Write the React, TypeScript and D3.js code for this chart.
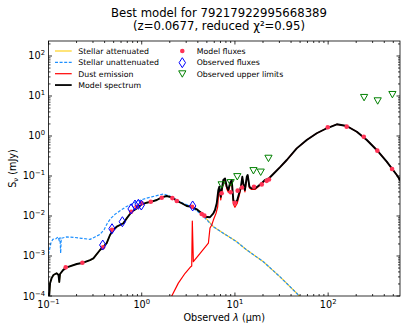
import React from 'react';
import * as d3 from 'd3';

// wavelength (um), flux density (mJy)
const modelSpectrum: [number, number][] = [
  [0.1, 1.0e-4], [0.102, 1.06e-4], [0.104, 2.1e-4], [0.108, 2.8e-4], [0.113, 3.35e-4], [0.122, 3.7e-4],
  [0.128, 3.35e-4], [0.1305, 2.24e-4], [0.133, 3.55e-4], [0.144, 4.5e-4], [0.157, 5.2e-4], [0.201, 6.3e-4],
  [0.236, 6.8e-4], [0.279, 7.9e-4], [0.303, 8.7e-4], [0.357, 1.41e-3], [0.387, 1.7e-3], [0.421, 2.09e-3],
  [0.457, 3.35e-3], [0.495, 4.47e-3], [0.539, 5.4e-3], [0.585, 5.96e-3], [0.635, 6.6e-3], [0.69, 8.7e-3],
  [0.78, 0.0128], [0.884, 0.0155], [1.0, 0.0196], [1.13, 0.0215], [1.28, 0.0228], [1.45, 0.0251],
  [1.64, 0.0293], [1.85, 0.0316], [2.1, 0.0293], [2.38, 0.024], [2.69, 0.0208], [3.04, 0.0178],
  [3.44, 0.017], [3.89, 0.0147], [4.4, 0.0117], [4.78, 0.0096], [5.4, 0.0093], [5.87, 0.0117],
  [6.11, 0.0141], [6.38, 0.0208], [6.64, 0.0447], [6.8, 0.054], [7.05, 0.0302], [7.21, 0.0447],
  [7.51, 0.0794], [7.83, 0.0871], [8.17, 0.054], [8.49, 0.0447], [8.85, 0.066], [9.24, 0.0794],
  [9.61, 0.0251], [10.0, 0.0208], [10.6, 0.0251], [11.1, 0.0372], [11.6, 0.054], [12.0, 0.0955],
  [12.3, 0.066], [12.8, 0.0447], [13.4, 0.0955], [13.7, 0.106], [14.3, 0.054], [15.1, 0.049],
  [16.4, 0.049], [17.8, 0.0562], [19.4, 0.066], [21.0, 0.0794], [22.8, 0.0841], [25.8, 0.112],
  [30.5, 0.166], [36.0, 0.251], [46.0, 0.49], [58.9, 0.794], [75.5, 1.17], [96.6, 1.56], [124, 1.96],
  [158, 1.78], [203, 1.28], [260, 0.794], [332, 0.447], [425, 0.228], [545, 0.106], [600, 0.075],
];

const stellarUnattenuated: [number, number][] = [
  [0.1, 1.1e-3], [0.103, 1.5e-3], [0.106, 2.09e-3], [0.111, 2.6e-3], [0.12, 2.7e-3], [0.127, 3.0e-3],
  [0.1305, 2.4e-3], [0.133, 2.87e-3], [0.135, 1.17e-3], [0.137, 2.77e-3], [0.157, 3.0e-3], [0.185, 2.93e-3],
  [0.227, 2.77e-3], [0.279, 2.6e-3], [0.315, 3.0e-3], [0.357, 3.47e-3], [0.397, 4.66e-3], [0.428, 6.6e-3],
  [0.465, 8.7e-3], [0.517, 0.011], [0.585, 0.0135], [0.679, 0.017], [0.782, 0.02], [0.884, 0.023],
  [1.0, 0.0255], [1.13, 0.028], [1.28, 0.03], [1.45, 0.0323], [1.71, 0.0355], [1.85, 0.0335],
  [2.1, 0.0302], [2.38, 0.0251], [2.79, 0.0208], [3.3, 0.0178], [3.89, 0.0135], [4.4, 0.0108],
  [5.87, 5.4e-3], [7.51, 3.7e-3], [10.4, 2.29e-3], [13.4, 1.41e-3], [20.2, 7.2e-4], [30.5, 3.0e-4],
  [46, 1.17e-4], [60, 6.0e-5],
];

const dustEmission: [number, number][] = [
  [2.0, 8e-5], [2.1, 1.0e-4], [2.47, 2.1e-4], [2.92, 3.7e-4], [3.36, 5.4e-4], [3.44, 5.6e-4],
  [3.49, 7.5e-3], [3.58, 7.2e-4], [4.23, 1.17e-3], [5.19, 2.09e-3], [5.4, 5.0e-3], [5.64, 5.96e-3],
  [5.87, 7.9e-3], [6.27, 0.0117], [6.53, 0.017], [6.69, 0.0372], [6.83, 0.0447], [7.05, 0.0251],
  [7.21, 0.0372], [7.51, 0.072], [7.83, 0.08], [8.17, 0.048], [8.49, 0.039], [8.85, 0.058],
  [9.24, 0.072], [9.61, 0.02], [10.0, 0.0165], [10.6, 0.021], [11.1, 0.032], [11.6, 0.049],
  [12.0, 0.09], [12.3, 0.06], [12.8, 0.04], [13.4, 0.09], [13.7, 0.1], [14.3, 0.05], [15.1, 0.046],
  [16.4, 0.046], [17.8, 0.054], [19.4, 0.064], [21.0, 0.078], [22.8, 0.083],
];

const modelFluxes: [number, number][] = [
  [0.153, 5.2e-4], [0.231, 6.8e-4], [0.385, 1.65e-3], [0.48, 4.5e-3], [0.77, 0.0128], [0.88, 0.017],
  [1.0, 0.0208], [1.25, 0.0228], [1.64, 0.0287], [2.13, 0.028], [2.38, 0.0237], [3.47, 0.017],
  [4.4, 0.0112], [4.7, 0.0102], [7.2, 0.0371], [9.0, 0.0392], [10.0, 0.0215], [10.7, 0.043],
  [11.9, 0.0514], [16, 0.054], [19.4, 0.0617], [21.9, 0.0756], [23.2, 0.082], [99, 1.65], [158, 1.71],
  [241, 0.96], [337, 0.43], [485, 0.15],
];

const observedFluxes: [number, number][] = [
  [0.382, 1.88e-3], [0.48, 4.8e-3], [0.62, 7.2e-3], [0.77, 0.015], [0.847, 0.0188], [0.92, 0.0196],
  [0.99, 0.0188], [3.52, 0.0178],
];

const upperLimits: [number, number][] = [
  [7.2, 0.0596], [9.0, 0.0676], [10.6, 0.0955], [15.8, 0.135], [18.9, 0.124], [22.9, 0.275],
  [243, 9.1], [340, 7.5], [489, 10.8],
];

const xMajor = [0.1, 1, 10, 100];
const yMajor = [1e-4, 1e-3, 1e-2, 1e-1, 1, 10, 100];

const legendLines = [
  { label: 'Stellar attenuated', color: '#ffd21f', dash: '', width: 1.2 },
  { label: 'Stellar unattenuated', color: '#1e90ff', dash: '3,1.6', width: 1.2 },
  { label: 'Dust emission', color: '#ff0000', dash: '', width: 1.2 },
  { label: 'Model spectrum', color: '#000000', dash: '', width: 1.8 },
];
const legendMarkers = ['Model fluxes', 'Observed fluxes', 'Observed upper limits'];

const FONT = 'DejaVu Sans, sans-serif';
const left = 48.5, right = 400, top = 41, bottom = 296;

const x = d3.scaleLog().domain([0.1, 590]).range([left, right]);
const y = d3.scaleLog().domain([1e-4, 237]).range([bottom, top]);

const line = d3.line<[number, number]>().x(d => x(d[0])).y(d => y(d[1]));

function minorTicks(scale: d3.ScaleLogarithmic<number, number>) {
  const [a, b] = scale.domain();
  const out: number[] = [];
  for (let e = Math.floor(Math.log10(a)); e <= Math.ceil(Math.log10(b)); e++) {
    for (let m = 2; m <= 9; m++) {
      const v = m * Math.pow(10, e);
      if (v >= a && v <= b) out.push(v);
    }
  }
  return out;
}

const expLabel = (v: number) => {
  const e = Math.round(Math.log10(v));
  return e < 0 ? '\u2212' + Math.abs(e) : String(e);
};

const diamond = (cx: number, cy: number) => `M${cx},${cy - 5}L${cx + 3.2},${cy}L${cx},${cy + 5}L${cx - 3.2},${cy}Z`;
const triangle = (cx: number, cy: number) => `M${cx - 3.6},${cy - 3.2}L${cx + 3.6},${cy - 3.2}L${cx},${cy + 3.2}Z`;

export default function App() {
  const stellarAttenuated = modelSpectrum.filter(d => d[0] <= 4.4).concat(stellarUnattenuated.filter(d => d[0] > 4.4));
  const dustFull = dustEmission.concat(modelSpectrum.filter(d => d[0] > 25));
  const xMinor = minorTicks(x);
  const yMinor = minorTicks(y);

  return (
    <svg width={407} height={332} style={{ position: 'absolute', left: 0, top: 0 }} fontFamily={FONT}>
      <rect width={407} height={332} fill="#fff" />
      <defs>
        <clipPath id="plot">
          <rect x={left} y={top} width={right - left} height={bottom - top} />
        </clipPath>
      </defs>

      <text x={219} y={16.5} fontSize={11.7} textAnchor="middle">Best model for 79217922995668389</text>
      <text x={219} y={29.8} fontSize={11.7} textAnchor="middle">(z=0.0677, reduced χ²=0.95)</text>

      <g clipPath="url(#plot)" fill="none" strokeLinejoin="round">
        <path d={line(stellarAttenuated) || ''} stroke="#ffd21f" strokeWidth={1.2} />
        <path d={line(stellarUnattenuated) || ''} stroke="#1e90ff" strokeWidth={1.2} strokeDasharray="3,1.6" />
        <path d={line(dustFull) || ''} stroke="#ff0000" strokeWidth={1.2} />
        <path d={line(modelSpectrum) || ''} stroke="#000" strokeWidth={1.9} />
        {modelFluxes.map((d, i) => (
          <circle key={'m' + i} cx={x(d[0])} cy={y(d[1])} r={2.3} fill="#ff3355" />
        ))}
        {observedFluxes.map((d, i) => (
          <path key={'o' + i} d={diamond(x(d[0]), y(d[1]))} stroke="#0000ff" strokeWidth={1} />
        ))}
        {upperLimits.map((d, i) => (
          <path key={'u' + i} d={triangle(x(d[0]), y(d[1]))} stroke="#008000" strokeWidth={1} />
        ))}
      </g>

      {/* ticks */}
      <g stroke="#000" strokeWidth={0.8}>
        {xMajor.map(v => (
          <g key={'xM' + v}>
            <line x1={x(v)} x2={x(v)} y1={bottom} y2={bottom - 3.5} />
            <line x1={x(v)} x2={x(v)} y1={top} y2={top + 3.5} />
          </g>
        ))}
        {xMinor.map(v => (
          <g key={'xm' + v}>
            <line x1={x(v)} x2={x(v)} y1={bottom} y2={bottom - 2} />
            <line x1={x(v)} x2={x(v)} y1={top} y2={top + 2} />
          </g>
        ))}
        {yMajor.map(v => (
          <g key={'yM' + v}>
            <line x1={left} x2={left + 3.5} y1={y(v)} y2={y(v)} />
            <line x1={right} x2={right - 3.5} y1={y(v)} y2={y(v)} />
          </g>
        ))}
        {yMinor.map(v => (
          <g key={'ym' + v}>
            <line x1={left} x2={left + 2} y1={y(v)} y2={y(v)} />
            <line x1={right} x2={right - 2} y1={y(v)} y2={y(v)} />
          </g>
        ))}
      </g>
      <rect x={left} y={top} width={right - left} height={bottom - top} fill="none" stroke="#000" strokeWidth={0.8} />

      {xMajor.map(v => (
        <text key={'xl' + v} x={x(v)} y={308} fontSize={9.7} textAnchor="middle">
          10<tspan dy={-4} fontSize={6.8}>{expLabel(v)}</tspan>
        </text>
      ))}
      {yMajor.map(v => (
        <text key={'yl' + v} x={45} y={y(v) + 3.5} fontSize={9.7} textAnchor="end">
          10<tspan dy={-4} fontSize={6.8}>{expLabel(v)}</tspan>
        </text>
      ))}

      <text x={(left + right) / 2} y={321} fontSize={9.7} textAnchor="middle">
        Observed <tspan fontStyle="italic">λ</tspan> (μm)
      </text>
      <text transform={`translate(15.5,${(top + bottom) / 2}) rotate(-90)`} fontSize={9.7} textAnchor="middle">
        S<tspan fontSize={6.8} dy={2}>ν</tspan><tspan dy={-2}> (mJy)</tspan>
      </text>

      {/* legend */}
      {legendLines.map((l, i) => (
        <g key={l.label}>
          <line x1={55} x2={71.7} y1={51 + i * 11.35} y2={51 + i * 11.35} stroke={l.color}
            strokeWidth={l.width} strokeDasharray={l.dash} />
          <text x={78.3} y={51 + i * 11.35 + 2.8} fontSize={7.8}>{l.label}</text>
        </g>
      ))}
      {legendMarkers.map((label, i) => (
        <g key={label}>
          {i === 0 && <circle cx={182.3} cy={51} r={2.3} fill="#ff3355" />}
          {i === 1 && <path d={diamond(182.3, 62.7)} fill="none" stroke="#0000ff" strokeWidth={1} />}
          {i === 2 && <path d={triangle(182.3, 74)} fill="none" stroke="#008000" strokeWidth={1} />}
          <text x={196.7} y={51 + i * 11.35 + 2.8} fontSize={7.8}>{label}</text>
        </g>
      ))}
    </svg>
  );
}
